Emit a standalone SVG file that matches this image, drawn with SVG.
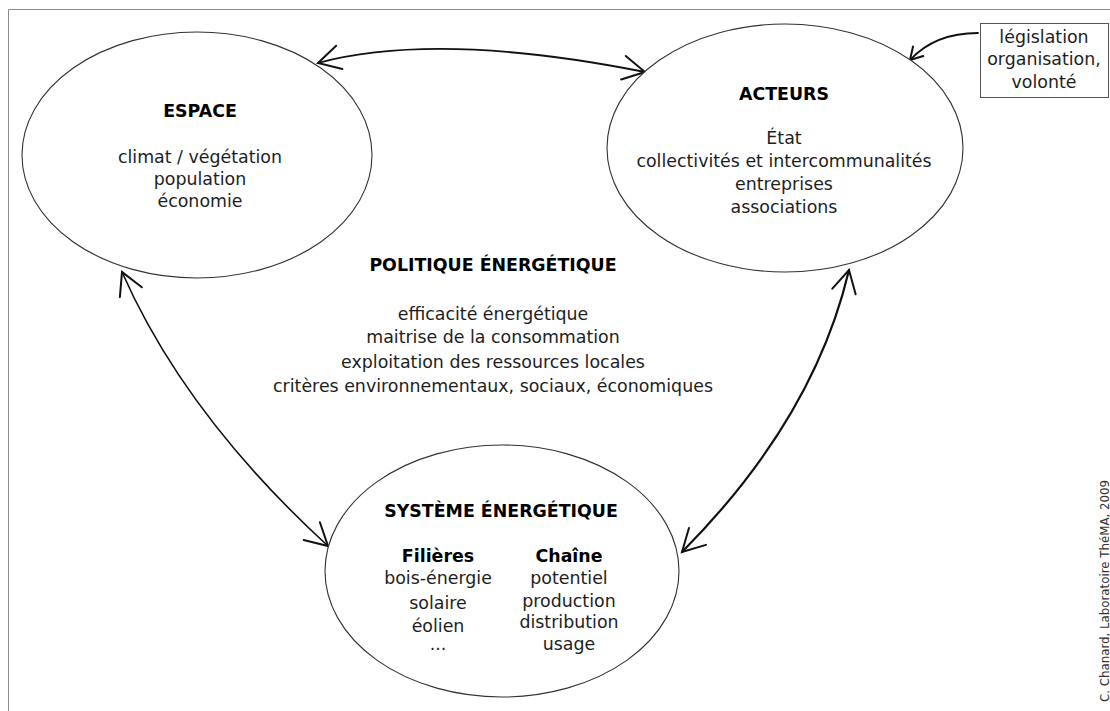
<svg xmlns="http://www.w3.org/2000/svg" width="1110" height="711" viewBox="0 0 1110 711">
<style>
  .bg { fill: #ffffff; }
  .frame { fill: none; stroke: #8a8a8a; stroke-width: 1; }
  .node { fill: #ffffff; stroke: #333333; stroke-width: 1.1; }
  .box { fill: #ffffff; stroke: #555555; stroke-width: 1; }
  .t { font-family: "DejaVu Sans", "Liberation Sans", sans-serif; font-size: 17.4px; fill: #1e1e1e; text-anchor: middle; }
  .b { font-weight: bold; fill: #000000; }
  .conn { fill: none; stroke: #111111; stroke-linecap: round; }
  .credit { font-family: "DejaVu Sans", "Liberation Sans", sans-serif; font-size: 11.8px; fill: #333333; }
</style>
<defs>
  <marker id="arrow" markerUnits="userSpaceOnUse" markerWidth="40" markerHeight="40" viewBox="-30 -20 40 40" refX="0" refY="0" orient="auto-start-reverse" overflow="visible">
    <path d="M -22,-12 L 0,0 L -22,12" fill="none" stroke="#111111" stroke-width="2" stroke-linecap="round" stroke-linejoin="miter"/>
  </marker>
  <marker id="arrow-sm" markerUnits="userSpaceOnUse" markerWidth="24" markerHeight="24" viewBox="-18 -12 24 24" refX="0" refY="0" orient="auto" overflow="visible">
    <path d="M -12,-7 L 0,0 L -12,7" fill="none" stroke="#111111" stroke-width="2" stroke-linecap="round"/>
  </marker>
</defs>
<rect class="bg" x="0" y="0" width="1110" height="711"/>
<path class="frame" d="M 8.5,711 V 9.5 H 1110"/>

<g id="connectors">
  <path class="conn" stroke-width="1.8" d="M 318,63 Q 438,31 645,72" marker-start="url(#arrow)" marker-end="url(#arrow)"/>
  <path class="conn" stroke-width="1.6" d="M 122,272 Q 185,415 328,546" marker-start="url(#arrow)" marker-end="url(#arrow)"/>
  <path class="conn" stroke-width="2.2" d="M 849,270 Q 814,419 682,552" marker-start="url(#arrow)" marker-end="url(#arrow)"/>
  <path class="conn" stroke-width="1.8" d="M 978,33 Q 935,33 910,60" marker-end="url(#arrow-sm)"/>
</g>

<g id="espace">
  <ellipse class="node" cx="197" cy="155" rx="175" ry="123"/>
  <text class="t b" x="200" y="117">ESPACE</text>
  <text class="t" x="200" y="163">climat / végétation</text>
  <text class="t" x="200" y="185">population</text>
  <text class="t" x="200" y="207">économie</text>
</g>

<g id="acteurs">
  <ellipse class="node" cx="785" cy="148" rx="178" ry="124"/>
  <text class="t b" x="784" y="100">ACTEURS</text>
  <text class="t" x="784" y="144">État</text>
  <text class="t" x="784" y="167">collectivités et intercommunalités</text>
  <text class="t" x="784" y="190">entreprises</text>
  <text class="t" x="784" y="213">associations</text>
</g>

<g id="politique">
  <text class="t b" x="493" y="271">POLITIQUE ÉNERGÉTIQUE</text>
  <text class="t" x="493" y="320">efficacité énergétique</text>
  <text class="t" x="493" y="343">maitrise de la consommation</text>
  <text class="t" x="493" y="368">exploitation des ressources locales</text>
  <text class="t" x="493" y="392">critères environnementaux, sociaux, économiques</text>
</g>

<g id="systeme">
  <ellipse class="node" cx="502" cy="571" rx="177" ry="126"/>
  <text class="t b" x="501" y="517">SYSTÈME ÉNERGÉTIQUE</text>
  <text class="t b" x="438" y="562">Filières</text>
  <text class="t" x="438" y="584">bois-énergie</text>
  <text class="t" x="438" y="609">solaire</text>
  <text class="t" x="438" y="632">éolien</text>
  <text class="t" x="438" y="650">...</text>
  <text class="t b" x="569" y="562">Chaîne</text>
  <text class="t" x="569" y="584">potentiel</text>
  <text class="t" x="569" y="607">production</text>
  <text class="t" x="569" y="628">distribution</text>
  <text class="t" x="569" y="650">usage</text>
</g>

<g id="legislation">
  <rect class="box" x="980.5" y="23.5" width="128" height="74"/>
  <text class="t" x="1044" y="43">législation</text>
  <text class="t" x="1044" y="65">organisation,</text>
  <text class="t" x="1044" y="88">volonté</text>
</g>

<text class="credit" transform="translate(1109,702) rotate(-90)">C. Chanard, Laboratoire ThéMA, 2009</text>
</svg>
